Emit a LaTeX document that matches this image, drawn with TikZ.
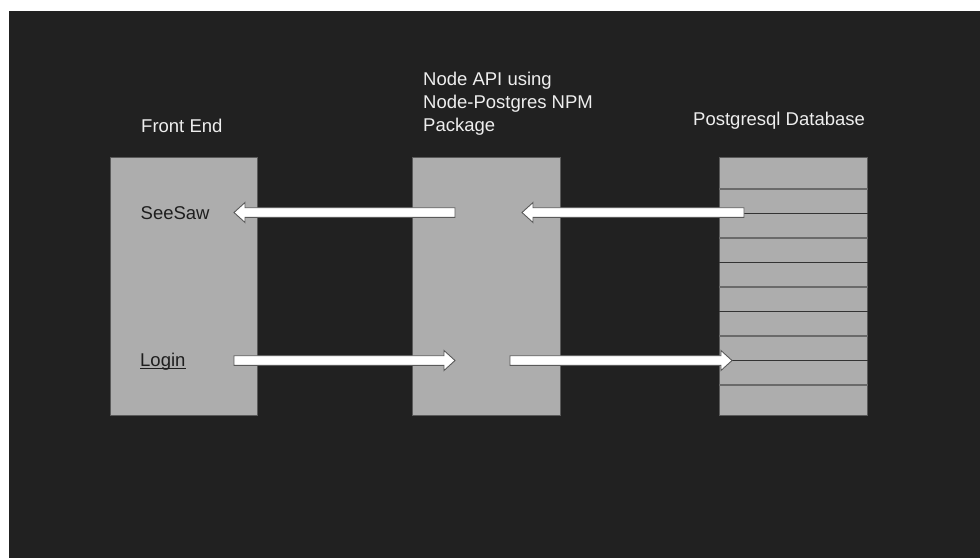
\documentclass[tikz,border=0pt]{standalone}
\usepackage{fontspec}
\setmainfont{Liberation Sans}
\usetikzlibrary{calc}
\definecolor{bgdark}{HTML}{212121}
\definecolor{boxgray}{HTML}{ADADAD}
\definecolor{boxedge}{HTML}{5A5A5A}
\definecolor{lightlab}{HTML}{EEEEEE}
\definecolor{darklab}{HTML}{1E1E1E}
\definecolor{rowthick}{HTML}{6A6A6A}
\definecolor{rowthin}{HTML}{333333}
\newcommand\blockarr[3]{%
  \draw[barrow] ($(#1)+(0,4.8)$) -- ($(#2)+(#3,4.8)$) -- ($(#2)+(#3,10)$) -- (#2)
    -- ($(#2)+(#3,-10)$) -- ($(#2)+(#3,-4.8)$) -- ($(#1)+(0,-4.8)$) -- cycle;}
\begin{document}
\begin{tikzpicture}[x=1pt,y=-1pt,
  panel/.style={draw=boxedge,line width=0.8pt,fill=boxgray},
  barrow/.style={draw=boxedge,line width=0.9pt,fill=white,line join=miter},
  toplab/.style={anchor=base west,inner sep=0pt,text=lightlab,font=\fontsize{18.5}{22.8}\selectfont},
  inlab/.style={anchor=base west,inner sep=0pt,text=darklab,font=\fontsize{18.5}{22.8}\selectfont},
  thickrow/.style={draw=rowthick,line width=1.6pt},
  thinrow/.style={draw=rowthin,line width=1pt}]
\useasboundingbox (0,0) rectangle (980,558);
\fill[white] (0,0) rectangle (980,558);
\fill[bgdark] (9,11) rectangle (980,558);
% panels
\path[panel] (110,157) rectangle (257,415);
\node[inner sep=0pt,minimum width=147pt,minimum height=258pt] (fe) at (183.5,286) {};
\path[panel] (412.5,157) rectangle (560.5,415);
\node[inner sep=0pt,minimum width=148pt,minimum height=258pt] (api) at (486.5,286) {};
\path[panel] (719.5,157) rectangle (867.5,415);
\node[inner sep=0pt,minimum width=148pt,minimum height=258pt] (db) at (793.5,286) {};
% database rows
\foreach \yy in {189,238,287,336,385} \draw[thickrow] (db.west |- 0,\yy) -- (db.east |- 0,\yy);
\foreach \yy in {213,262,311,360} \draw[thinrow] (db.west |- 0,\yy) -- (db.east |- 0,\yy);
% titles
\node[toplab] (feT) at (141,132) {Front End};
\node[toplab,align=left] (apiT) at (423,131.5) {Node API using\\Node-Postgres NPM\\Package};
\node[toplab] (dbT) at (693,125) {Postgresql Database};
% inner labels
\node[inlab] (seesaw) at (140.5,219) {SeeSaw};
\node[inlab] (login) at (140,366.5) {Login};
\draw[darklab,line width=1.4pt] ([yshift=-1.8pt]login.base west) -- ([yshift=-1.8pt]login.base east);
% arrow endpoints
\coordinate (a1s) at (455,212.5);
\coordinate (a1e) at (234,212.5);
\coordinate (a2s) at (744,212.5);
\coordinate (a2e) at (522,212.5);
\coordinate (a3s) at (234,360.5);
\coordinate (a3e) at (455,360.5);
\coordinate (a4s) at (510,360.5);
\coordinate (a4e) at (732,360.5);
\blockarr{a1s}{a1e}{11}
\blockarr{a2s}{a2e}{11}
\blockarr{a3s}{a3e}{-11}
\blockarr{a4s}{a4e}{-11}
\end{tikzpicture}
\end{document}
